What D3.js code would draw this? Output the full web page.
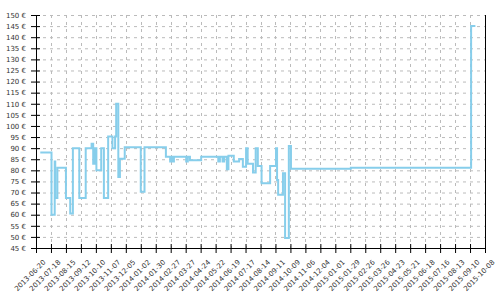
<!DOCTYPE html>
<html>
<head>
<meta charset="utf-8">
<script src="https://cdn.jsdelivr.net/npm/d3@7"></script>
<style>
  body { margin: 0; background: #fff; }
  #canvas { width: 500px; height: 300px; }
  text { font-family: "DejaVu Sans", sans-serif; }
</style>
</head>
<body>
<div id="canvas" class="canvas"></div>
<script>
// price history, step changes (date, price in €)
var dates = [
  "2013-06-28","2013-07-19","2013-07-25","2013-07-26","2013-07-30","2013-08-15","2013-08-23","2013-08-28",
  "2013-09-09","2013-09-21","2013-10-02","2013-10-05","2013-10-08","2013-10-11","2013-10-20","2013-10-25",
  "2013-11-02","2013-11-10","2013-11-15","2013-11-17","2013-11-21","2013-11-24","2013-12-03","2014-01-02",
  "2014-01-09","2014-02-18","2014-02-26","2014-02-28","2014-03-02","2014-03-05","2014-03-28","2014-03-31",
  "2014-04-04","2014-04-25","2014-05-27","2014-05-30","2014-06-04","2014-06-07","2014-06-12","2014-06-15",
  "2014-06-25","2014-07-05","2014-07-12","2014-07-18","2014-07-21","2014-07-31","2014-08-05","2014-08-09",
  "2014-08-16","2014-09-01","2014-09-12","2014-09-14","2014-09-16","2014-09-25","2014-09-29","2014-10-06",
  "2014-10-10","2015-01-30","2015-09-12","2015-09-20"
];
var prices = [
  88, 60, 84, 67.5, 81.2, 67.5, 60.6, 90,
  67.5, 90, 92, 83, 90, 80, 90, 67.5,
  95.2, 90, 95.2, 110, 77, 85.2, 90.4, 70.4,
  90.4, 86.1, 84, 86.1, 84, 86.1, 84, 86.1,
  84.5, 86.1, 84, 86.1, 84, 86.1, 80.5, 86.6,
  84, 85.1, 81.6, 90, 83, 79, 90, 82,
  74.2, 82, 90, 75.6, 69, 78.7, 49.5, 91,
  80.7, 81.2, 145, 145
];
var xStart = "2013-06-20", xEnd = "2015-10-08";
var yTicks = [45,50,55,60,65,70,75,80,85,90,95,100,105,110,115,120,125,130,135,140,145,150];

var m = {t:15, r:15, b:52, l:36};
var W = 500, H = 300;
var w = W - m.l - m.r, h = H - m.t - m.b;
var parse = d3.timeParse("%Y-%m-%d");
var fmt = d3.timeFormat("%Y-%m-%d");

var data = dates.map(function(d,i){ return {date: parse(d), price: prices[i]}; });

var svg = d3.select('.canvas').append('svg')
  .attr('width', W).attr('height', H);
var plot = svg.append('g')
  .attr('transform','translate(' + m.l + ',' + m.t + ')');

var x = d3.scaleTime().domain([parse(xStart), parse(xEnd)]).range([0, w]);
var y = d3.scaleLinear().domain([45, 150]).range([h, 0]);
var xTicks = d3.timeDay.every(1).range(parse(xStart), d3.timeDay.offset(parse(xEnd), 1))
  .filter(function(d,i){ return i % 28 === 0; });

// grid
plot.append('g').selectAll('line').data(yTicks.slice(1)).enter().append('line')
  .attr('x1', 0).attr('x2', w)
  .attr('y1', function(d){ return y(d) + 0.5; }).attr('y2', function(d){ return y(d) + 0.5; })
  .style('stroke', '#bbb').style('stroke-dasharray', '3,4');
plot.append('g').selectAll('line').data(xTicks.slice(1)).enter().append('line')
  .attr('x1', function(d){ return Math.round(x(d)) + 0.5; })
  .attr('x2', function(d){ return Math.round(x(d)) + 0.5; })
  .attr('y1', 0).attr('y2', h)
  .style('stroke', '#bbb').style('stroke-dasharray', '3,4');

// line
var line = d3.line()
  .x(function(d){ return x(d.date); })
  .y(function(d){ return y(d.price); })
  .curve(d3.curveStepAfter);
plot.append('path').datum(data)
  .attr('d', line)
  .style('fill', 'none')
  .style('stroke', '#87ceeb')
  .style('stroke-width', 2);

// right border
plot.append('line')
  .attr('x1', w + 0.5).attr('x2', w + 0.5).attr('y1', 0).attr('y2', h)
  .style('stroke', '#000');

// axes
var yAxis = plot.append('g')
  .call(d3.axisLeft(y).tickValues(yTicks).tickSize(5).tickFormat(function(d){ return d + " €"; }));
yAxis.selectAll('.tick line').attr('x1', 4).attr('x2', -5);
yAxis.selectAll('text').attr('x', -10).style('font-size', '7px').style('fill', '#333');

var xAxis = plot.append('g')
  .attr('transform', 'translate(0,' + h + ')')
  .call(d3.axisBottom(x).tickValues(xTicks).tickSize(5).tickFormat(fmt));
xAxis.selectAll('.tick line').attr('y1', -4).attr('y2', 5);
xAxis.selectAll('text')
  .style('text-anchor', 'end')
  .style('font-size', '7px').style('fill', '#333')
  .attr('dx', 0).attr('dy', 0)
  .attr('transform', 'translate(4,9) rotate(-45)');
svg.selectAll('.domain').style('stroke', '#000');
</script>
</body>
</html>
